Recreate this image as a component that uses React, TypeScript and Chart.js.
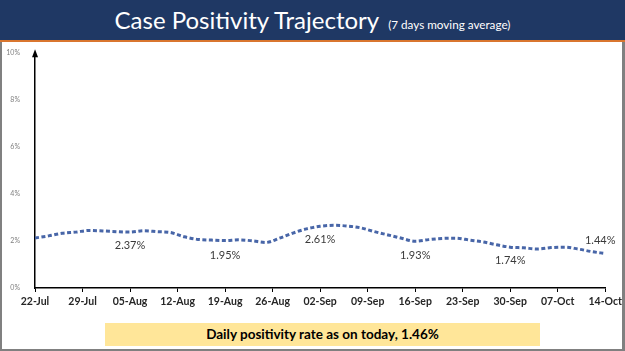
import React, { useEffect, useRef } from "react";
import { Chart, registerables } from "chart.js";

Chart.register(...registerables);

// Day index from 22-Jul (0) to 14-Oct (84)
const days = [0, 2, 4, 6, 8, 10, 12, 14, 16, 18, 20, 22, 24, 26, 28, 30, 32, 34, 36, 38, 40, 42, 44, 46, 48, 50, 52, 54, 56, 58, 60, 62, 64, 66, 68, 70, 72, 74, 76, 78, 80, 82, 84];
const positivity = [2.13, 2.22, 2.33, 2.38, 2.45, 2.43, 2.4, 2.38, 2.44, 2.4, 2.36, 2.18, 2.07, 2.04, 2.02, 2.05, 2.01, 1.94, 2.12, 2.34, 2.52, 2.63, 2.67, 2.64, 2.56, 2.4, 2.26, 2.12, 1.99, 2.06, 2.11, 2.12, 2.04, 1.96, 1.84, 1.74, 1.71, 1.66, 1.72, 1.74, 1.66, 1.55, 1.47];
const tickLabels = ["22-Jul", "29-Jul", "05-Aug", "12-Aug", "19-Aug", "26-Aug", "02-Sep", "09-Sep", "16-Sep", "23-Sep", "30-Sep", "07-Oct", "14-Oct"];
const labelDays = [14, 28, 42, 56, 70, 84];
const labelValues = [2.37, 1.95, 2.61, 1.93, 1.74, 1.44];
const labelBelow = [true, true, true, true, true, false];

const FONT = "Lato, 'Open Sans', sans-serif";

export default function App() {
  const ref = useRef<HTMLCanvasElement | null>(null);

  useEffect(() => {
    if (!ref.current) return;
    const labelPlugin = {
      id: "extras",
      afterDatasetsDraw(chart: any) {
        const { ctx, scales, chartArea } = chart;
        const xs = scales.x;
        const ys = scales.y;
        ctx.save();
        ctx.fillStyle = "#3a3a3a";
        ctx.font = `11px ${FONT}`;
        ctx.textAlign = "center";
        ctx.textBaseline = "middle";
        labelDays.forEach((d, i) => {
          let px = xs.getPixelForValue(d);
          const py = ys.getPixelForValue(labelValues[i]);
          if (i === labelDays.length - 1) px -= 5;
          ctx.fillText(labelValues[i].toFixed(2) + "%", px, labelBelow[i] ? py + 13 : py - 14);
        });
        // arrow on y axis
        ctx.fillStyle = "#000";
        ctx.beginPath();
        ctx.moveTo(chartArea.left, chartArea.top - 4);
        ctx.lineTo(chartArea.left - 3, chartArea.top + 4);
        ctx.lineTo(chartArea.left + 3, chartArea.top + 4);
        ctx.closePath();
        ctx.fill();
        ctx.restore();
      },
    };

    const chart = new Chart(ref.current, {
      type: "line",
      data: {
        datasets: [
          {
            data: days.map((d, i) => ({ x: d, y: positivity[i] })),
            borderColor: "#4866a8",
            borderWidth: 3,
            borderDash: [4, 2.5],
            pointRadius: 0,
            tension: 0.4,
            cubicInterpolationMode: "monotone",
            fill: false,
          },
        ],
      },
      options: {
        responsive: false,
        animation: false,
        layout: { padding: { top: 10, right: 18, left: 0, bottom: 0 } },
        plugins: { legend: { display: false }, tooltip: { enabled: false } },
        scales: {
          x: {
            type: "linear",
            min: 0,
            max: 84,
            afterFit: (s: any) => {
              s.height = 30;
            },
            afterBuildTicks: (s: any) => {
              s.ticks = tickLabels.map((_, i) => ({ value: i * 7 }));
            },
            ticks: {
              autoSkip: false,
              maxRotation: 0,
              padding: 3,
              color: "#262626",
              font: { family: FONT, size: 10.5, weight: "bold" },
              callback: (v: any) => tickLabels[Math.round(Number(v) / 7)] ?? "",
            },
            grid: { display: true, drawOnChartArea: false, drawTicks: true, tickLength: 4, color: "#000", lineWidth: 1 },
            border: { display: true, color: "#000", width: 1.5 },
          },
          y: {
            min: 0,
            max: 10,
            afterFit: (s: any) => {
              s.width = 35;
            },
            ticks: {
              stepSize: 2,
              padding: 7,
              color: "#808080",
              font: { family: FONT, size: 7 },
              callback: (v: any) => v + "%",
            },
            grid: { display: false },
            border: { display: true, color: "#000", width: 1.5 },
          },
        },
      },
      plugins: [labelPlugin],
    } as any);
    return () => chart.destroy();
  }, []);

  return (
    <div style={{ position: "fixed", left: 0, top: 0, width: 625, height: 351, background: "#fff", overflow: "hidden" }}>
      <div style={{ position: "absolute", left: 0, top: 0, width: 625, height: 40, background: "#1f3864" }}>
        <div
          style={{
            position: "absolute",
            left: 0,
            top: 5,
            width: 625,
            textAlign: "center",
            color: "#fff",
            fontFamily: FONT,
            whiteSpace: "nowrap",
          }}
        >
          <span style={{ fontSize: 24 }}>Case Positivity Trajectory</span>
          <span style={{ fontSize: 11.7, marginLeft: 9 }}>(7 days moving average)</span>
        </div>
      </div>
      <div style={{ position: "absolute", left: 0, top: 40, width: 625, height: 2, background: "#d9762f" }} />
      <div style={{ position: "absolute", left: 0, top: 42, width: 2, height: 309, background: "#808080" }} />
      <div style={{ position: "absolute", left: 622, top: 42, width: 3, height: 309, background: "#808080" }} />
      <canvas ref={ref} width={625} height={276} style={{ position: "absolute", left: 0, top: 42, width: 625, height: 276 }} />
      <div
        style={{
          position: "absolute",
          left: 105,
          top: 323,
          width: 435,
          height: 23,
          background: "#ffe699",
          color: "#000",
          fontFamily: FONT,
          fontWeight: "bold",
          fontSize: 13.5,
          lineHeight: "23px",
          textAlign: "center",
        }}
      >
        Daily positivity rate as on today, 1.46%
      </div>
      <div style={{ position: "absolute", left: 0, top: 349, width: 625, height: 2, background: "#808080" }} />
    </div>
  );
}
